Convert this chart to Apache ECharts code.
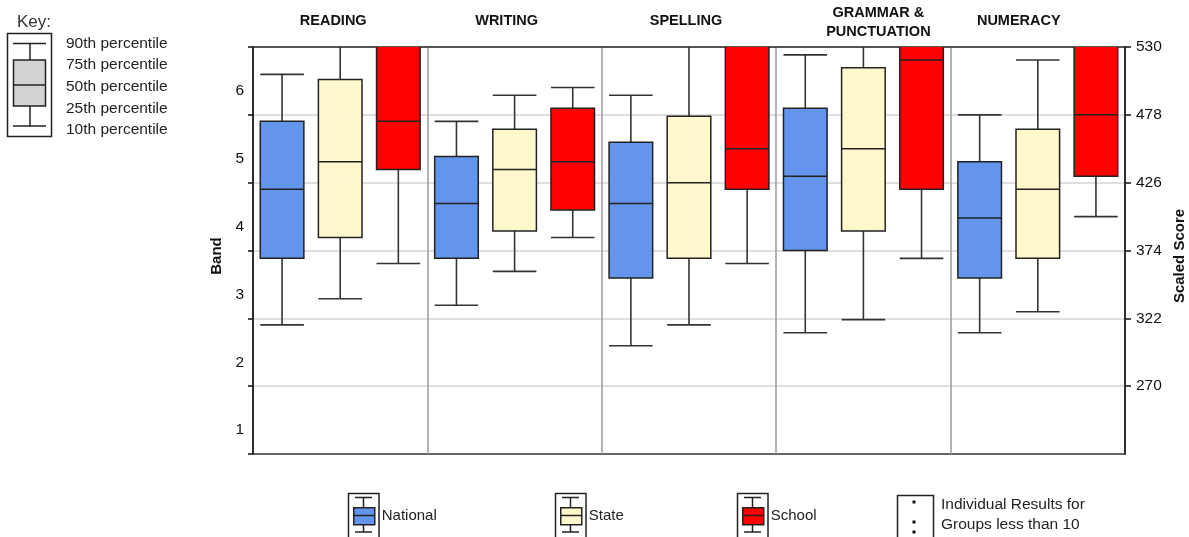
<!DOCTYPE html>
<html>
<head>
<meta charset="utf-8">
<script src="https://cdn.jsdelivr.net/npm/echarts@6/dist/echarts.min.js"></script>
<style>
  html, body { margin: 0; padding: 0; background: #fff; }
  #chart { width: 1189px; height: 537px; }
</style>
</head>
<body>
<div id="chart"></div>
<script>
// ---------------- DATA ----------------
const subjects = ['READING', 'WRITING', 'SPELLING', 'GRAMMAR &\nPUNCTUATION', 'NUMERACY'];
const bandLabels = ['1', '2', '3', '4', '5', '6'];
const scoreTicks = [270, 322, 374, 426, 478, 530];
const seriesNames = ['National', 'State', 'School'];
const keyLabels = ['90th percentile', '75th percentile', '50th percentile', '25th percentile', '10th percentile'];
const individualNote = 'Individual Results for\nGroups less than 10';

// [10th, 25th, 50th, 75th, 90th] scaled scores per subject
const nationalStats = [
  [317, 368, 421, 473, 509],
  [332, 368, 410, 446, 473],
  [301, 353, 410, 457, 493],
  [311, 374, 431, 483, 524],
  [311, 353, 399, 442, 478]
];
const stateStats = [
  [337, 384, 442, 505, 545],
  [358, 389, 436, 467, 493],
  [317, 368, 426, 477, 550],
  [321, 389, 452, 514, 545],
  [327, 368, 421, 467, 520]
];
const schoolStats = [
  [364, 436, 473, 550, 570],
  [384, 405, 442, 483, 499],
  [364, 421, 452, 550, 570],
  [368, 421, 520, 550, 570],
  [400, 431, 478, 550, 570]
];

// ---------------- STYLE ----------------
const FONT = '"Liberation Sans", Arial, sans-serif';
const seriesColors = ['#6495ED', '#FFF8CC', '#FF0000'];
const titlePadding = [[0, 14, 11, 0], [0, 16, 11, 0], [0, 6, 11, 0], [0, 0, 0, 30], [0, 38, 11, 0]];
const legendFrameLeft = [348, 555, 737];

function renderBox(params, api) {
  const cat = api.value(0);
  const band = api.size([1, 0])[0];
  const sub = band / seriesNames.length;
  const x = api.coord([cat, 0])[0] + (params.seriesIndex - 1) * sub;
  const hw = sub * 0.375;
  const ys = [1, 2, 3, 4, 5].map(d => api.coord([cat, api.value(d)])[1]);
  const [y10, y25, y50, y75, y90] = ys;
  const color = api.visual('color');
  const ls = { stroke: '#333', lineWidth: 1.6 };
  return {
    type: 'group',
    children: [
      { type: 'line', shape: { x1: x, y1: y90, x2: x, y2: y75 }, style: ls },
      { type: 'line', shape: { x1: x, y1: y25, x2: x, y2: y10 }, style: ls },
      { type: 'line', shape: { x1: x - hw, y1: y90, x2: x + hw, y2: y90 }, style: ls },
      { type: 'line', shape: { x1: x - hw, y1: y10, x2: x + hw, y2: y10 }, style: ls },
      { type: 'rect', shape: { x: x - hw, y: y75, width: 2 * hw, height: y25 - y75 },
        style: { fill: color, stroke: '#222', lineWidth: 1.5 } },
      { type: 'line', shape: { x1: x - hw, y1: y50, x2: x + hw, y2: y50 }, style: { stroke: '#222', lineWidth: 1.5 } }
    ]
  };
}

const allStats = [nationalStats, stateStats, schoolStats];
const series = seriesNames.map((name, si) => ({
  name: name,
  type: 'custom',
  xAxisIndex: 0,
  yAxisIndex: 1,
  clip: true,
  itemStyle: { color: seriesColors[si] },
  encode: { x: 0, y: [1, 2, 3, 4, 5] },
  renderItem: renderBox,
  data: allStats[si].map((v, i) => [i].concat(v))
}));

// ---------- graphic: key and legend glyph decorations ----------
const graphics = [];
const line = (x1, y1, x2, y2, w) => ({ type: 'line', z: 100, shape: { x1, y1, x2, y2 }, style: { stroke: '#222', lineWidth: w || 1.5 } });
graphics.push({ type: 'text', z: 100, x: 17, y: 22, style: { text: 'Key:', font: '17px ' + FONT, fill: '#333', verticalAlign: 'middle' } });
graphics.push({ type: 'rect', z: 100, shape: { x: 7.5, y: 33.5, width: 44, height: 103 }, style: { fill: 'none', stroke: '#222', lineWidth: 1.5 } });
graphics.push(line(13, 43.5, 46, 43.5));
graphics.push(line(30, 43.5, 30, 60));
graphics.push({ type: 'rect', z: 100, shape: { x: 13.5, y: 60, width: 32, height: 46 }, style: { fill: '#d3d3d3', stroke: '#222', lineWidth: 1.5 } });
graphics.push(line(13.5, 85, 45.5, 85));
graphics.push(line(30, 106, 30, 126));
graphics.push(line(13, 126, 46, 126));
keyLabels.forEach((t, i) => {
  graphics.push({ type: 'text', z: 100, x: 66, y: 43.5 + i * 21.6, style: { text: t, font: '15.5px ' + FONT, fill: '#222', verticalAlign: 'middle' } });
});
legendFrameLeft.forEach(fx => {
  graphics.push({ type: 'rect', z: 100, shape: { x: fx + 0.5, y: 493.5, width: 30.5, height: 50 }, style: { fill: 'none', stroke: '#222', lineWidth: 1.5 } });
  graphics.push(line(fx + 7, 497.5, fx + 24, 497.5));
  graphics.push(line(fx + 15.5, 497.5, fx + 15.5, 507));
  graphics.push(line(fx + 15.5, 524, fx + 15.5, 532));
  graphics.push(line(fx + 7, 532, fx + 24, 532));
  graphics.push(line(fx + 5, 515.5, fx + 26, 515.5));
});
graphics.push({ type: 'rect', z: 100, shape: { x: 897.5, y: 495.5, width: 36, height: 50 }, style: { fill: 'none', stroke: '#222', lineWidth: 1.5 } });
[502, 522, 532].forEach(cy => {
  graphics.push({ type: 'rect', z: 100, shape: { x: 912.5, y: cy - 1.5, width: 3, height: 3 }, style: { fill: '#111' } });
});
graphics.push({ type: 'text', z: 100, x: 941, y: 515, style: { text: individualNote, font: '15.5px ' + FONT, fill: '#222', verticalAlign: 'middle', lineHeight: 20 } });

const option = {
  animation: false,
  backgroundColor: '#fff',
  textStyle: { fontFamily: FONT },
  grid: { left: 253, right: 64, top: 47, bottom: 83, show: true, borderColor: '#333', borderWidth: 1.5, outerBoundsMode: 'none', containLabel: false },
  legend: seriesNames.map((name, i) => ({
    data: [name],
    left: legendFrameLeft[i] + 5,
    top: 507,
    padding: 0,
    itemWidth: 21,
    itemHeight: 17,
    icon: 'rect',
    selectedMode: false,
    itemStyle: { borderColor: '#222', borderWidth: 1.5 },
    textStyle: { fontSize: 15, fontFamily: FONT, color: '#222', padding: [0, 0, 0, 2] }
  })),
  xAxis: {
    type: 'category',
    position: 'top',
    data: subjects.map((s, i) => ({
      value: s,
      textStyle: { padding: titlePadding[i], verticalAlign: 'bottom', lineHeight: 19, fontWeight: 'bold', fontSize: 14.5, color: '#111' }
    })),
    axisTick: { show: false },
    axisLine: { show: true, lineStyle: { color: '#333', width: 1.5 } },
    axisLabel: { interval: 0, fontWeight: 'bold', fontSize: 14.5, fontFamily: FONT, color: '#111', margin: 6, lineHeight: 19 },
    splitLine: { show: true, interval: 0, lineStyle: { color: '#9a9a9a', width: 1.5 } }
  },
  yAxis: [
    {
      type: 'category',
      position: 'left',
      data: bandLabels,
      name: 'Band',
      nameLocation: 'middle',
      nameGap: 27,
      nameRotate: 90,
      nameTextStyle: { fontWeight: 'bold', fontSize: 15, fontFamily: FONT, color: '#111', padding: [0, 11, 0, 0] },
      axisLine: { show: true, lineStyle: { color: '#111', width: 1.5 } },
      axisTick: { show: true, length: 5, interval: 0, lineStyle: { color: '#111', width: 1.5 } },
      axisLabel: { interval: 0, fontSize: 15.5, fontFamily: FONT, color: '#111', margin: 9, verticalAlign: 'top', lineHeight: 16, padding: [2, 0, 0, 0] },
      splitLine: { show: false }
    },
    {
      type: 'value',
      position: 'right',
      min: 218,
      max: 530,
      name: 'Scaled Score',
      nameLocation: 'middle',
      nameGap: 47,
      nameRotate: 90,
      nameTextStyle: { fontWeight: 'bold', fontSize: 15, fontFamily: FONT, color: '#111', padding: [0, 11, 0, 0] },
      axisLine: { show: true, lineStyle: { color: '#111', width: 1.5 } },
      axisTick: { show: true, length: 6, customValues: scoreTicks, lineStyle: { color: '#111', width: 1.5 } },
      axisLabel: { customValues: scoreTicks, fontSize: 15.5, fontFamily: FONT, color: '#111', margin: 11 },
      splitLine: { show: true, lineStyle: { color: '#d4d4d4', width: 1.5 } }
    }
  ],
  graphic: { elements: graphics },
  series: series
};

const chart = echarts.init(document.getElementById('chart'), null, { renderer: 'canvas' });
chart.setOption(option);
</script>
</body>
</html>
